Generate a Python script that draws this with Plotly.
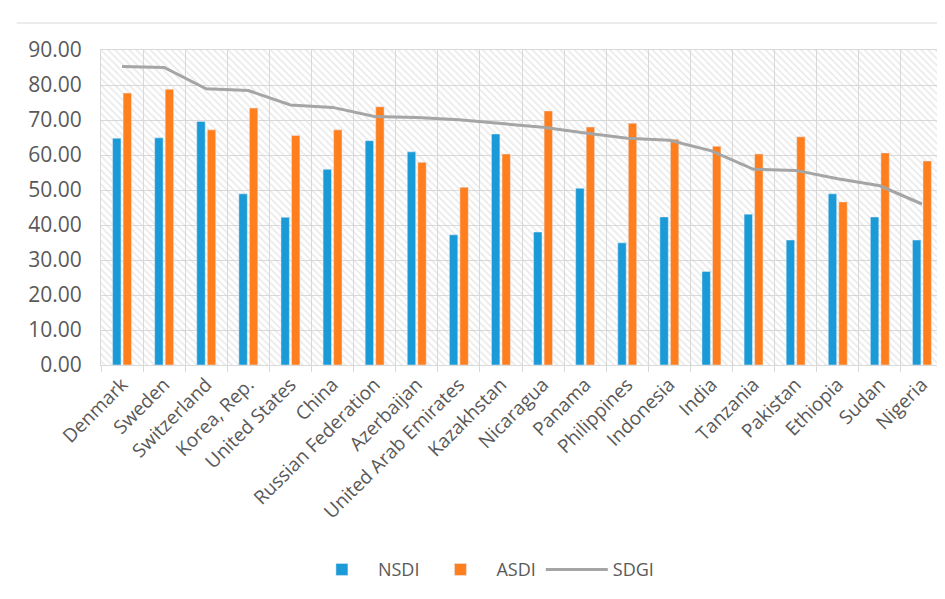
import plotly.graph_objects as go

countries = ["Denmark", "Sweden", "Switzerland", "Korea, Rep.", "United States", "China",
             "Russian Federation", "Azerbaijan", "United Arab Emirates", "Kazakhstan",
             "Nicaragua", "Panama", "Philippines", "Indonesia", "India", "Tanzania",
             "Pakistan", "Ethiopia", "Sudan", "Nigeria"]
nsdi = [64.8, 64.9, 69.6, 48.9, 42.2, 55.9, 64.1, 60.9, 37.2, 66.0,
        38.0, 50.5, 34.9, 42.3, 26.7, 43.1, 35.7, 48.9, 42.3, 35.7]
asdi = [77.7, 78.8, 67.2, 73.4, 65.6, 67.2, 73.8, 57.9, 50.8, 60.3,
        72.6, 68.0, 69.1, 64.5, 62.5, 60.3, 65.2, 46.6, 60.6, 58.3]
sdgi = [85.3, 85.0, 78.9, 78.4, 74.3, 73.6, 71.0, 70.7, 70.1, 69.1,
        67.9, 66.3, 64.8, 64.2, 61.2, 55.9, 55.6, 53.2, 51.2, 46.0]
y_ticks = [0, 10, 20, 30, 40, 50, 60, 70, 80, 90]
Y_MAX = y_ticks[-1]

fig = go.Figure()

# hatched plot-area background (Excel pattern fill)
fig.add_trace(go.Bar(
    x=countries, y=[Y_MAX] * len(countries), width=1,
    marker=dict(color="rgba(0,0,0,0)", line=dict(width=0),
                pattern=dict(shape="\\", fgcolor="#d3d3d3", bgcolor="rgba(0,0,0,0)",
                             size=5, solidity=0.32)),
    showlegend=False, hoverinfo="skip", xaxis="x", yaxis="y"))

fig.add_trace(go.Bar(name="NSDI", x=countries, y=nsdi, marker_color="#1a9ad6",
                     xaxis="x2", yaxis="y"))
fig.add_trace(go.Bar(name="ASDI", x=countries, y=asdi, marker_color="#ff7f1f",
                     xaxis="x2", yaxis="y"))
fig.add_trace(go.Scatter(name="SDGI", x=countries, y=sdgi, mode="lines",
                         line=dict(color="#a5a5a5", width=3),
                         xaxis="x2", yaxis="y"))

font_family = "Open Sans, Noto Sans, sans-serif"
fig.update_layout(
    width=945, height=599,
    margin=dict(l=93, r=10, t=42, b=242),
    paper_bgcolor="white", plot_bgcolor="white",
    barmode="group", bargap=0.5, bargroupgap=0.2,
    font=dict(family=font_family, color="#595959", size=18),
    xaxis=dict(categoryorder="array", categoryarray=countries,
               tickangle=-45, tickson="boundaries", showgrid=True,
               gridcolor="#d9d9d9", gridwidth=1,
               ticks="outside", ticklen=6, tickcolor="#d9d9d9",
               showline=True, linecolor="#d9d9d9", mirror=True,
               tickfont=dict(size=19, color="#595959")),
    xaxis2=dict(overlaying="x", matches="x", visible=False,
                categoryorder="array", categoryarray=countries),
    yaxis=dict(range=[0, Y_MAX], tickvals=y_ticks, tickformat=".2f",
               showgrid=True, gridcolor="#d9d9d9", gridwidth=1,
               showline=True, linecolor="#d9d9d9", mirror=True,
               zeroline=False, ticks="outside", ticklen=14, tickcolor="rgba(0,0,0,0)",
               tickfont=dict(size=21, color="#595959")),
    legend=dict(orientation="h", x=0.453, xanchor="center", y=-0.65, yanchor="middle",
                font=dict(size=18, color="#595959"), traceorder="normal",
                itemwidth=62),
    shapes=[dict(type="line", xref="paper", yref="paper",
                 x0=-0.1, x1=1.02, y0=1.086, y1=1.086,
                 line=dict(color="#e6e6e6", width=1.5))],
)

fig.write_html("out.html")
